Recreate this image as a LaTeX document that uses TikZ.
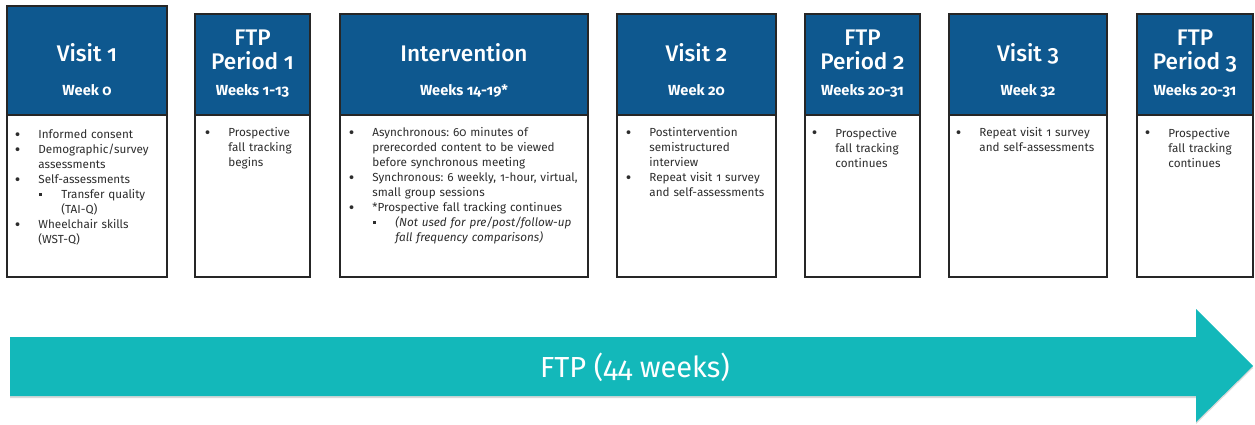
\documentclass[tikz,border=0pt]{standalone}
\usepackage{fontspec}
\setmainfont{Fira Sans}[Numbers=OldStyle]
\newfontfamily\medium{Fira Sans Medium}[Numbers=OldStyle]
\usetikzlibrary{shadows}
\definecolor{hdrblue}{RGB}{14,88,143}
\definecolor{ftpteal}{RGB}{19,184,186}
\definecolor{txtgray}{RGB}{45,45,45}
\frenchspacing
% bullet lines with hanging indent (break lines with \newline)
\newcommand\itm[1]{\par\noindent\hangindent=11.75pt\hangafter=1%
  \makebox[11.75pt][l]{\raisebox{-.7pt}{\fontsize{8.5}{8}\selectfont\textbullet}}#1}
\newcommand\subitm[1]{\par\noindent\hangindent=23.25pt\hangafter=1%
  \hspace*{12.25pt}\makebox[11pt][l]{\raisebox{1.6pt}{\rule{1.3pt}{1.3pt}}}#1}
\begin{document}
\begin{tikzpicture}[x=.5pt,y=-.5pt,
    frame/.style={draw=black!85,line width=.7pt},
    hdr/.style={frame,fill=hdrblue},
    bodybox/.style={frame,fill=white},
    ttl/.style={text=white,anchor=base,inner sep=0pt,font=\medium\fontsize{11.3}{12}\selectfont},
    wks/.style={text=white,anchor=base,inner sep=0pt,font=\bfseries\fontsize{7.3}{8}\selectfont},
    pts/.style={text=txtgray,anchor=north west,inner sep=0pt,text width=150pt,align=left,
      font=\fontsize{5.85}{7.5}\selectfont}]
  \useasboundingbox (0,0) rectangle (1255,424);
  % visit 1
  \draw[hdr] (7,6) rectangle (167,115); \draw[bodybox] (7,115) rectangle (167,277);
  \node[ttl] (v1t) at (87,61) {Visit 1};
  \node[wks] (v1w) at (87,95) {Week 0};
  \node[pts] (v1b) at (14.5,123.5) {\itm{Informed consent}\itm{Demographic/survey\newline assessments}
    \itm{Self-assessments}\subitm{Transfer quality\newline (TAI-Q)}\itm{Wheelchair skills\newline (WST-Q)}\par};
  % ftp period 1
  \draw[hdr] (195,14) rectangle (310,115); \draw[bodybox] (195,115) rectangle (310,277);
  \node[ttl] (p1a) at (252.5,45) {FTP};
  \node[ttl] (p1t) at (252.5,69) {Period 1};
  \node[wks] (p1w) at (252.5,95) {Weeks 1-13};
  \node[pts] (p1b) at (204.5,121.5) {\itm{Prospective\newline fall tracking\newline begins}\par};
  % intervention
  \draw[hdr] (340,14) rectangle (588,115); \draw[bodybox] (340,115) rectangle (588,277);
  \node[ttl] (ivt) at (464,61) {Intervention};
  \node[wks] (ivw) at (464,95) {Weeks 14-19*};
  \node[pts] (ivb) at (348.5,121.5) {\itm{Asynchronous: 60 minutes of\newline prerecorded content to be viewed\newline before synchronous meeting}
    \itm{Synchronous: 6 weekly, 1-hour, virtual,\newline small group sessions}
    \itm{*Prospective fall tracking continues}
    \subitm{\textit{(Not used for pre/post/follow-up\newline fall frequency comparisons)}}\par};
  % visit 2
  \draw[hdr] (617,14) rectangle (776,115); \draw[bodybox] (617,115) rectangle (776,277);
  \node[ttl] (v2t) at (696.5,61) {Visit 2};
  \node[wks] (v2w) at (696.5,95) {Week 20};
  \node[pts] (v2b) at (625.5,121.5) {\itm{Postintervention\newline semistructured\newline interview}
    \itm{Repeat visit 1 survey\newline and self-assessments}\par};
  % ftp period 2
  \draw[hdr] (805,14) rectangle (920,115); \draw[bodybox] (805,115) rectangle (920,277);
  \node[ttl] (p2a) at (862.5,45) {FTP};
  \node[ttl] (p2t) at (862.5,69) {Period 2};
  \node[wks] (p2w) at (862.5,95) {Weeks 20-31};
  \node[pts] (p2b) at (811.5,122) {\itm{Prospective\newline fall tracking\newline continues}\par};
  % visit 3
  \draw[hdr] (949,14) rectangle (1107,115); \draw[bodybox] (949,115) rectangle (1107,277);
  \node[ttl] (v3t) at (1028,61) {Visit 3};
  \node[wks] (v3w) at (1028,95) {Week 32};
  \node[pts] (v3b) at (955.5,121.5) {\itm{Repeat visit 1 survey\newline and self-assessments}\par};
  % ftp period 3
  \draw[hdr] (1137,14) rectangle (1253,115); \draw[bodybox] (1137,115) rectangle (1253,277);
  \node[ttl] (p3a) at (1195,45) {FTP};
  \node[ttl] (p3t) at (1195,69) {Period 3};
  \node[wks] (p3w) at (1195,95) {Weeks 20-31};
  \node[pts] (p3b) at (1144.5,122) {\itm{Prospective\newline fall tracking\newline continues}\par};
  % 44 week arrow
  \fill[ftpteal,drop shadow={shadow xshift=0pt,shadow yshift=-1pt,opacity=.3}]
    (10,337) -- (1196,337) -- (1196,309) -- (1253,366) -- (1196,422) -- (1196,396) -- (10,396) -- cycle;
  \node[text=white,anchor=base,inner sep=0pt,font=\fontsize{14.5}{16}\selectfont] (ftp) at (635,377) {FTP (44 weeks)};
\end{tikzpicture}
\end{document}
